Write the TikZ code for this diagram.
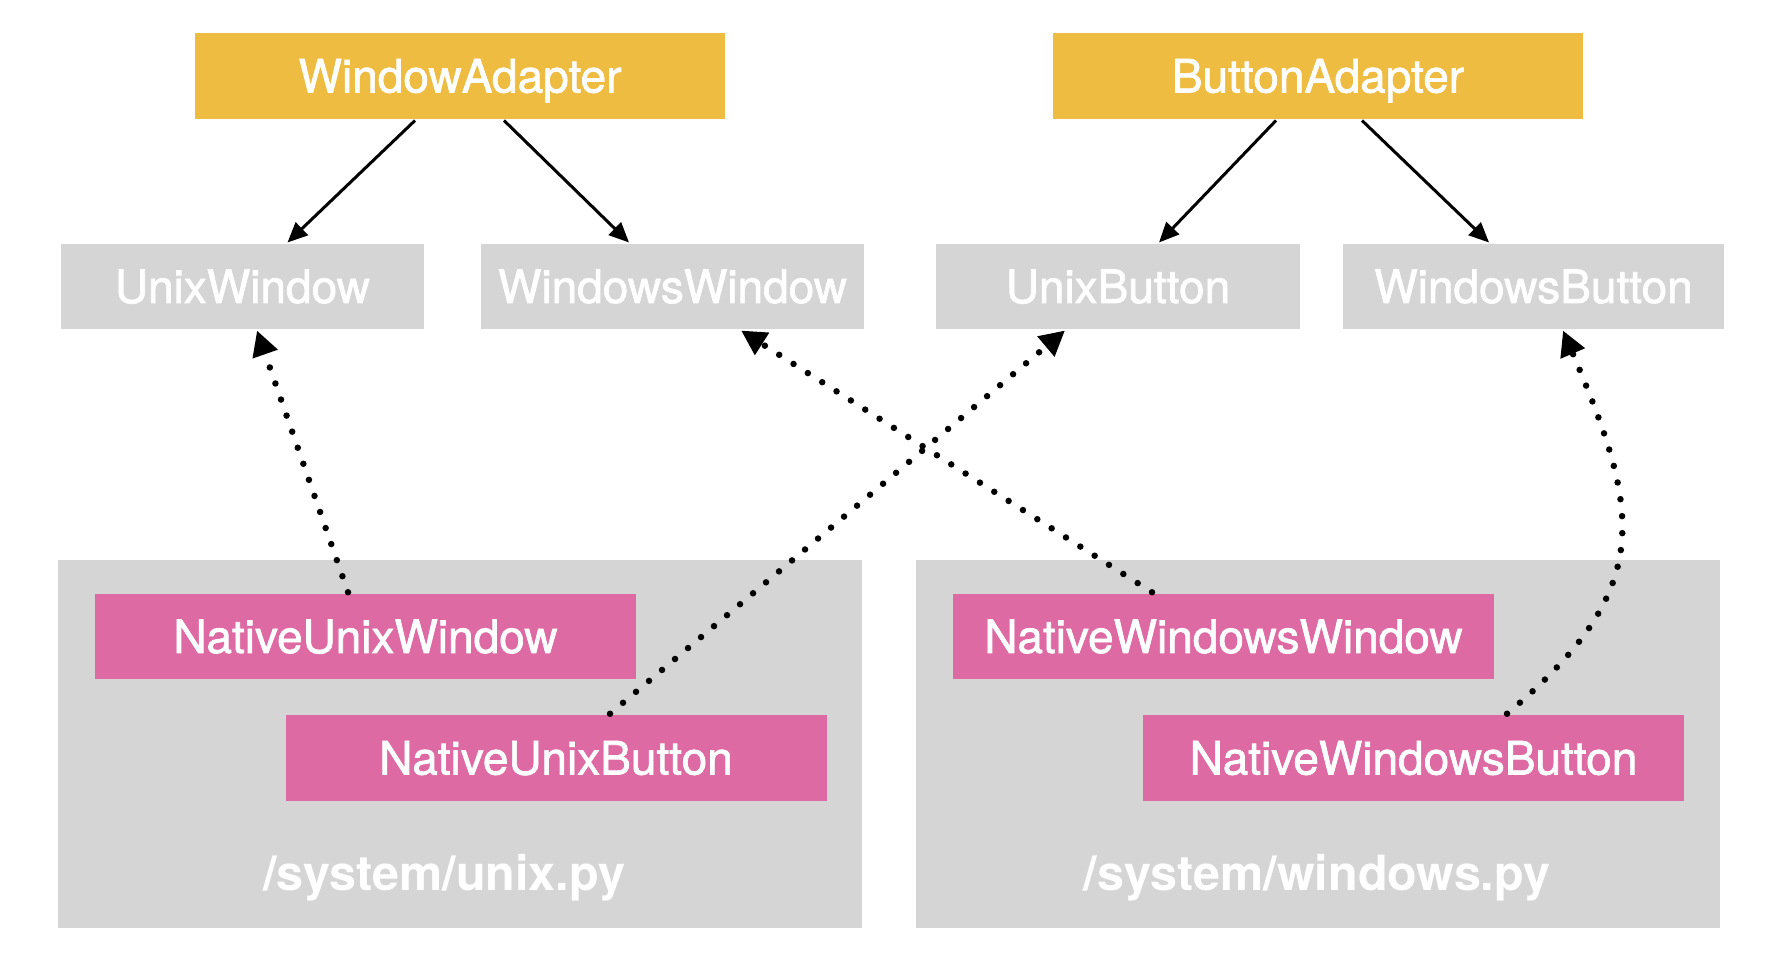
\documentclass[tikz,border=0pt]{standalone}
\usepackage{fontspec}
\setmainfont{TeX Gyre Heros}
\newfontfamily\boxfont{TeX Gyre Heros}[FakeBold=1.5]
\usepackage{tikz}
\usetikzlibrary{positioning,arrows.meta,calc}
\definecolor{adapteryellow}{RGB}{239,188,66}
\definecolor{nativepink}{RGB}{221,106,163}
\definecolor{boxgray}{RGB}{213,213,213}
\tikzset{every picture/.style={>={Triangle[length=8pt,width=7pt]},line width=1.2pt}}
\tikzset{box/.style={inner sep=0pt,text=white,text height=13.2pt,text depth=0pt,
    font=\boxfont\fontsize{18.4pt}{20pt}\selectfont}}
\tikzset{adapter/.style={box,fill=adapteryellow,minimum width=212pt,minimum height=34.4pt}}
\tikzset{window/.style={box,fill=boxgray,minimum height=34pt}}
\tikzset{native/.style={box,fill=nativepink,minimum width=216.4pt,minimum height=34.2pt}}
\tikzset{module/.style={fill=boxgray,inner sep=0pt,minimum width=321.6pt,minimum height=147.2pt}}
\tikzset{modlabel/.style={text=white,anchor=base,font=\bfseries\fontsize{19.4pt}{22pt}\selectfont}}
\tikzset{dots/.style={line width=2.6pt,line cap=round,dash pattern=on 0pt off 6.8pt,
    -{Triangle[length=10pt,width=10pt]}}}

\begin{document}
\begin{tikzpicture}[x=0.4pt,y=-0.4pt]
      \useasboundingbox (0,0) rectangle (1778,970);
      % adapters
      \node[adapter] (winadapter) at (460,76) {WindowAdapter};
      \node[adapter] (btnadapter) at (1318,76) {ButtonAdapter};
      % abstract classes
      \node[window,minimum width=145.2pt] (unixwin) at (242.5,286.5) {UnixWindow};
      \node[window,minimum width=153.2pt] (winwin) at (672.5,286.5) {WindowsWindow};
      \node[window,minimum width=145.6pt] (unixbtn) at (1118,286.5) {UnixButton};
      \node[window,minimum width=152.4pt] (winbtn) at (1533.5,286.5) {WindowsButton};
      % modules
      \node[module] (unixpy) at (460,744) {};
      \node[module] (winpy) at (1318,744) {};
      \node[modlabel] (unixpylabel) at (444,890) {/system/unix.py};
      \node[modlabel] (winpylabel) at (1317,890) {/system/windows.py};
      \node[native] (nunixwin) at (365.5,636.5) {NativeUnixWindow};
      \node[native] (nunixbtn) at (556,758) {NativeUnixButton};
      \node[native] (nwinwin) at (1223.5,636.5) {NativeWindowsWindow};
      \node[native] (nwinbtn) at (1413.5,758) {NativeWindowsButton};
      % adapter arrows
      \draw[->] ([xshift=-18pt]winadapter.south) -- ([xshift=18pt]unixwin.north);
      \draw[->] ([xshift=17.6pt]winadapter.south) -- ([xshift=-17.4pt]winwin.north);
      \draw[->] ([xshift=-16.8pt]btnadapter.south) -- ([xshift=16.4pt]unixbtn.north);
      \draw[->] ([xshift=17.6pt]btnadapter.south) -- ([xshift=-17.8pt]winbtn.north);
      % native implementations
      \draw[dots] ([xshift=-7pt]nunixwin.north) -- ([xshift=5.8pt]unixwin.south);
      \draw[dots] ([xshift=21.6pt]nunixbtn.north) -- ([xshift=-21.2pt]unixbtn.south);
      \draw[dots] ([xshift=-28.6pt]nwinwin.north) -- ([xshift=27.4pt]winwin.south);
      \draw[dots] ([xshift=37.4pt]nwinbtn.north) to[out=40,in=-67,looseness=1.3] ([xshift=11.8pt]winbtn.south);
    \end{tikzpicture}
\end{document}
